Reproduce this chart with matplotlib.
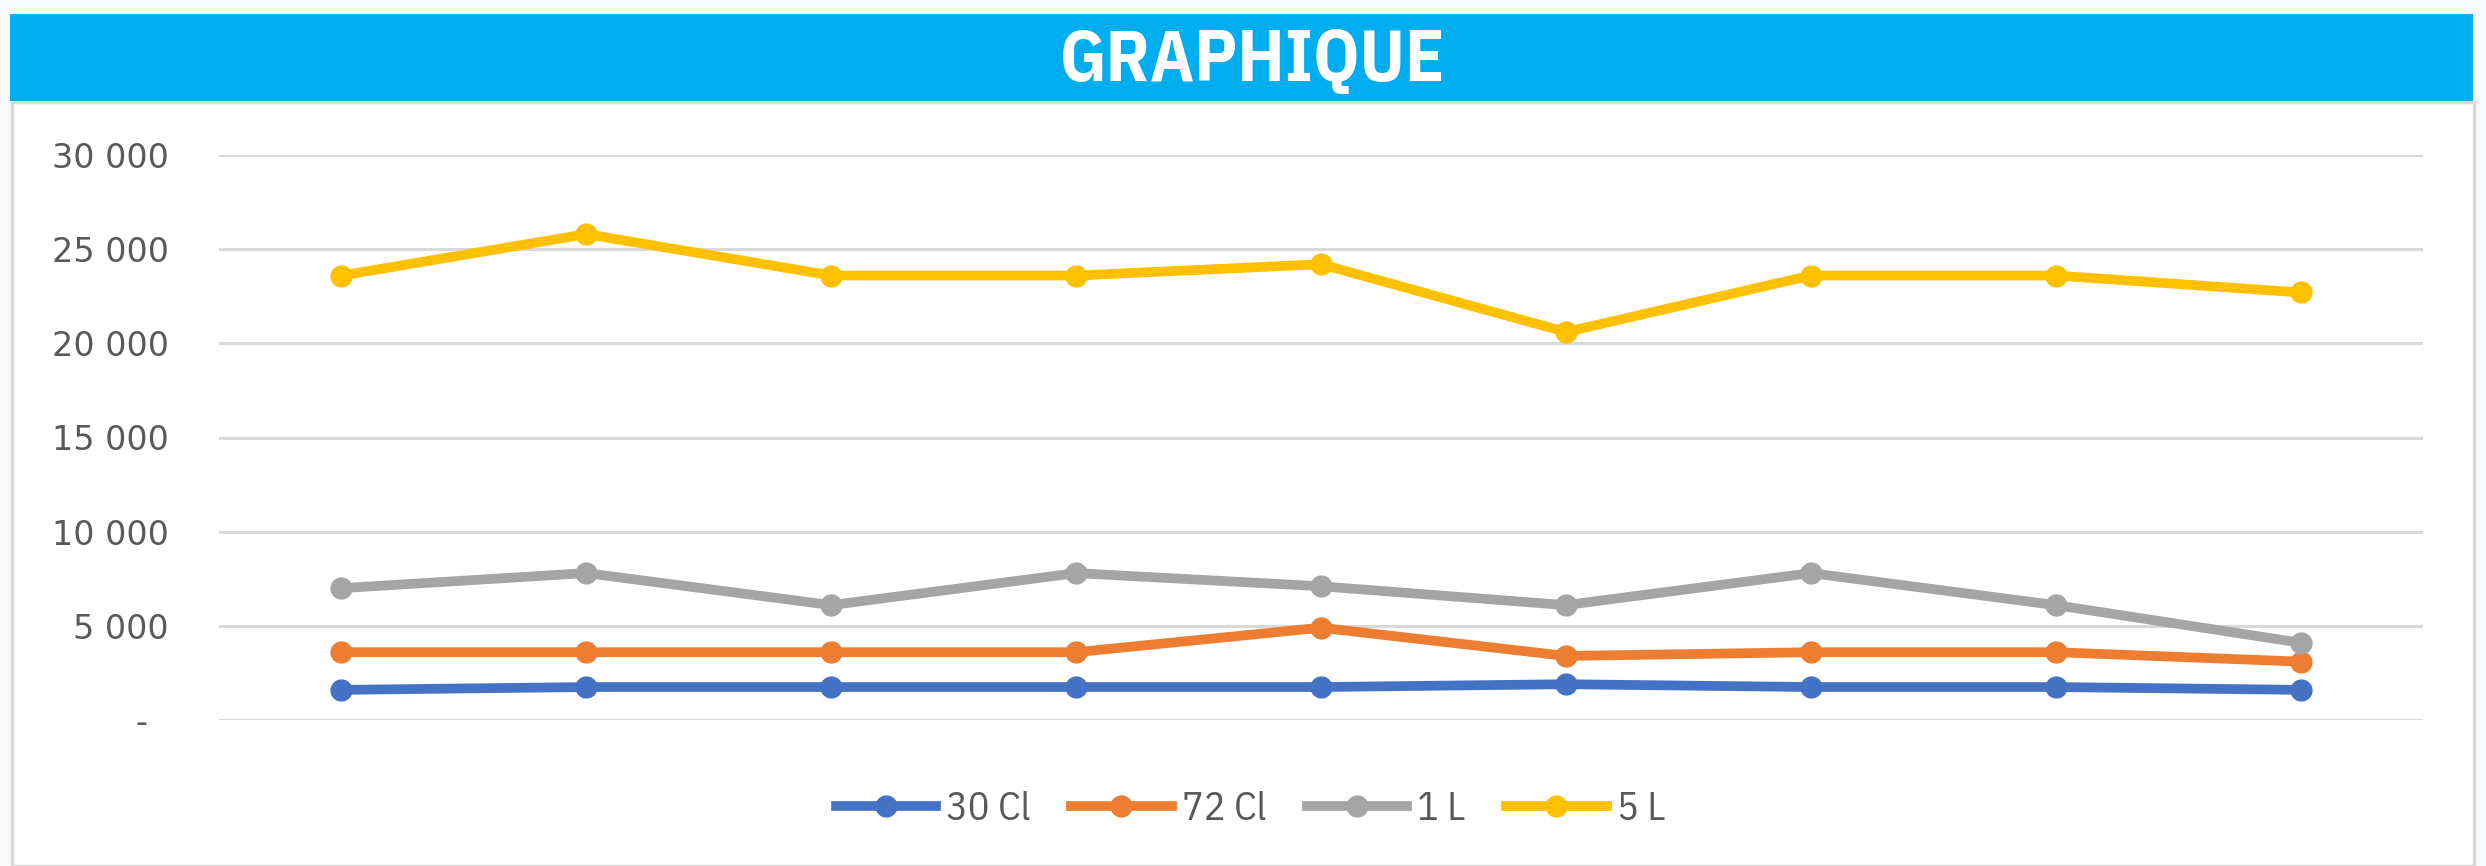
import matplotlib
matplotlib.use("Agg")
from matplotlib import pyplot as plt
from matplotlib.patches import Rectangle
from matplotlib.ticker import FuncFormatter

# data
categories = list(range(9))
series_names = ['30 Cl', '72 Cl', '1 L', '5 L']
cl30 = [1600, 1750, 1750, 1750, 1750, 1900, 1750, 1750, 1600]
cl72 = [3600, 3600, 3600, 3600, 4900, 3400, 3600, 3600, 3100]
l1 = [7000, 7800, 6100, 7800, 7100, 6100, 7800, 6100, 4100]
l5 = [23600, 25800, 23600, 23600, 24200, 20600, 23600, 23600, 22700]
colors = ['#4472C4', '#ED7D31', '#A5A5A5', '#FFC000']
y_ticks = [0, 5000, 10000, 15000, 20000, 25000, 30000]

W, H = 2486, 866
narrow = ['IBM Plex Sans Condensed', 'DejaVu Sans']

fig = plt.figure(figsize=(W / 100, H / 100), dpi=100, facecolor='#F8F9FB')


def fx(px):
    return px / W


def fy(py):
    return 1 - py / H


# white chart area and blue title banner
fig.add_artist(Rectangle((fx(12), 0), fx(2474) - fx(12), fy(102), transform=fig.transFigure,
                         facecolor='white', edgecolor='#D9D9D9', linewidth=2.5, zorder=0))
fig.add_artist(Rectangle((fx(10), fy(101)), fx(2473) - fx(10), fy(14) - fy(101), transform=fig.transFigure,
                         facecolor='#00AEEF', edgecolor='none', zorder=1))
fig.text(0.504, fy(81), 'GRAPHIQUE', color='white', fontsize=52, fontweight='bold',
         family=narrow, ha='center', va='baseline')

ax = fig.add_axes([fx(219), fy(720), fx(2423) - fx(219), fy(155) - fy(720)])
ax.set_facecolor('none')

for vals, name, c in zip([cl30, cl72, l1, l5], series_names, colors):
    ax.plot(categories, vals, color=c, linewidth=7, marker='o', markersize=15,
            label=name, solid_joinstyle='round', zorder=3)

ax.set_xlim(-0.5, 8.5)
ax.set_ylim(0, 30000)
ax.set_yticks(y_ticks)
ax.yaxis.set_major_formatter(FuncFormatter(
    lambda v, p: '-  ' if v == 0 else f"{int(v):,}".replace(',', ' ')))
ax.set_xticks([])
ax.tick_params(axis='y', length=0, pad=36, labelsize=24, labelcolor='#595959')
ax.grid(axis='y', color='#D9D9D9', linewidth=2.2, zorder=0)
for s in ax.spines.values():
    s.set_visible(False)

handles, labels = ax.get_legend_handles_labels()
fig.legend(handles, labels, loc='center', bbox_to_anchor=(0.503, fy(810)), ncol=4,
           frameon=False, prop={'family': narrow, 'size': 29}, labelcolor='#595959',
           handlelength=2.5, handletextpad=0.25, columnspacing=1.0)

plt.savefig('out.png', dpi=100, facecolor=fig.get_facecolor())
